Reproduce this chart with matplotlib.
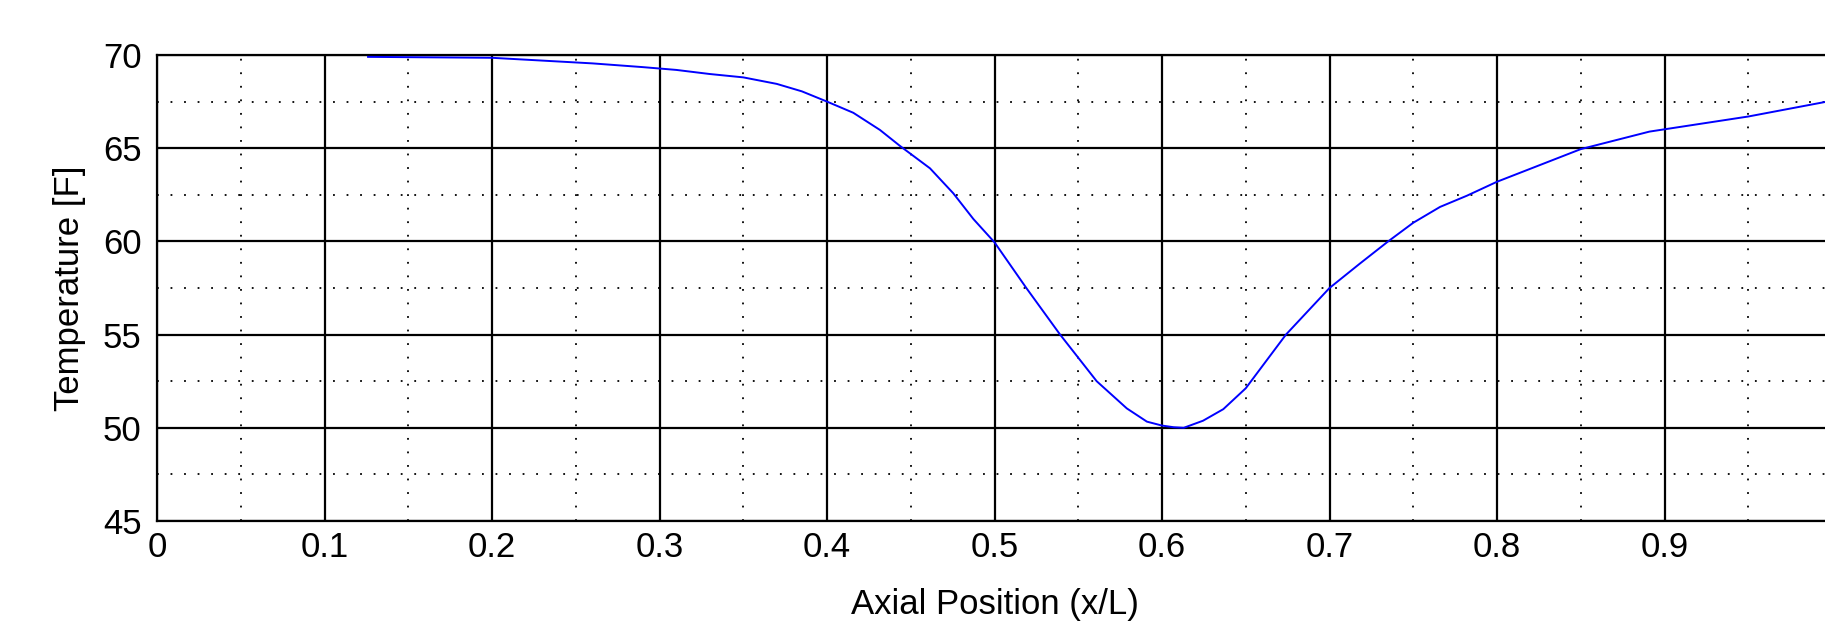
import numpy as np
import matplotlib
matplotlib.use('Agg')
import matplotlib.pyplot as plt
from matplotlib.ticker import MultipleLocator

# ── Data ─────────────────────────────────────────────────────────────────────
axial_pos = [0.126, 0.20, 0.23, 0.26, 0.29, 0.31, 0.33, 0.35, 0.37, 0.385,
             0.40, 0.4157, 0.4316, 0.4436, 0.4615, 0.4754, 0.4874, 0.50, 0.519,
             0.539, 0.561, 0.579, 0.591, 0.60, 0.607, 0.613, 0.6245, 0.6366,
             0.65, 0.674, 0.70, 0.718, 0.735, 0.75, 0.766, 0.782, 0.80, 0.85,
             0.891, 0.95, 1.0]
temperature = [69.90, 69.85, 69.70, 69.55, 69.35, 69.20, 68.98, 68.80, 68.45, 68.05,
               67.50, 66.90, 65.98, 65.12, 63.92, 62.58, 61.20, 59.95, 57.50,
               55.02, 52.50, 51.04, 50.33, 50.12, 50.03, 50.00, 50.38, 51.00,
               52.12, 55.00, 57.50, 58.80, 60.00, 61.00, 61.85, 62.45, 63.20, 64.95,
               65.89, 66.70, 67.55]

x_limits = (0, 1)
y_limits = (45, 70)

FONT = 'Liberation Sans'
FS = 25

# ── Figure ───────────────────────────────────────────────────────────────────
fig = plt.figure(figsize=(18.25, 6.21), dpi=100, facecolor='white')
ax = fig.add_axes([157 / 1825, 1 - 521 / 621, 1675 / 1825, 466 / 621])

ax.plot(axial_pos, temperature, color='#0000ff', linewidth=1.4, zorder=3)

ax.set_xlim(*x_limits)
ax.set_ylim(*y_limits)

ax.xaxis.set_major_locator(MultipleLocator(0.1))
ax.xaxis.set_minor_locator(MultipleLocator(0.05))
ax.yaxis.set_major_locator(MultipleLocator(5))
ax.yaxis.set_minor_locator(MultipleLocator(2.5))

# MATLAB-style grid: solid major, dotted minor
ax.grid(which='major', color='black', linestyle='-', linewidth=1.6, zorder=1)
ax.grid(which='minor', color='black', linestyle=(0, (1, 6.5)), linewidth=1.3, zorder=1)
ax.set_axisbelow(True)

for spine in ax.spines.values():
    spine.set_linewidth(1.6)
    spine.set_color('black')

ax.tick_params(which='both', length=0)
ax.tick_params(axis='x', pad=7.5)
ax.tick_params(axis='y', pad=11)

ax.set_xticklabels([f'{v:g}' for v in ax.get_xticks()], fontsize=FS, family=FONT)
ax.set_yticklabels([f'{v:g}' for v in ax.get_yticks()], fontsize=FS, family=FONT)
ax.set_xlim(*x_limits)
ax.set_ylim(*y_limits)

ax.set_xlabel('Axial Position (x/L)', fontsize=FS, family=FONT, labelpad=17)
ax.set_ylabel('Temperature [F]', fontsize=FS, family=FONT, labelpad=12)

fig.savefig('out.png', dpi=100, facecolor='white')
